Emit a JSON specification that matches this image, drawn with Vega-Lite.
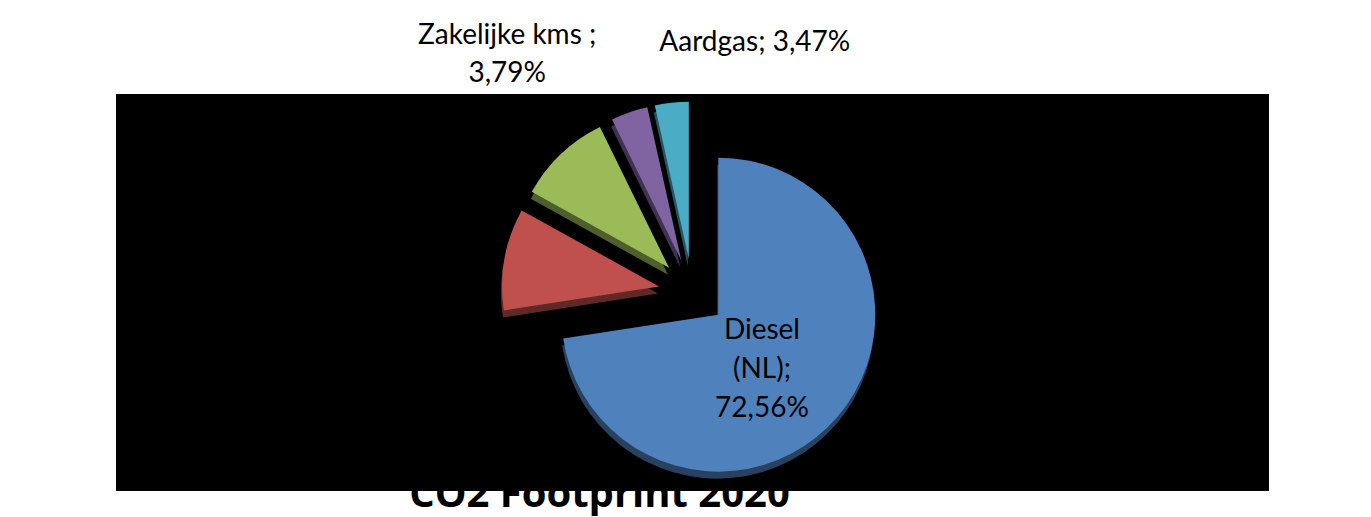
{
  "$schema": "https://vega.github.io/schema/vega-lite/v6.json",
  "width": 1153,
  "height": 397,
  "autosize": {"type": "none"},
  "padding": {"left": 116, "top": 94, "right": 102, "bottom": 26},
  "background": "white",
  "view": {"stroke": null, "fill": "black"},
  "config": {"text": {"font": "Lato"}},
  "title": {
    "text": "CO2 Footprint 2020",
    "orient": "bottom",
    "anchor": "middle",
    "dx": -93,
    "offset": 16,
    "baseline": "alphabetic",
    "font": "Open Sans",
    "fontSize": 40,
    "fontWeight": "bold",
    "color": "black"
  },
  "data": {
    "values": [
      {"categorie": "Diesel (NL)", "aandeel": 72.56, "volgorde": 1, "label": "Diesel\n(NL);\n72,56%"},
      {"categorie": "Categorie 2", "aandeel": 10.5, "volgorde": 2, "label": ""},
      {"categorie": "Categorie 3", "aandeel": 9.68, "volgorde": 3, "label": ""},
      {"categorie": "Zakelijke kms", "aandeel": 3.79, "volgorde": 4, "label": "Zakelijke kms ;\n3,79%"},
      {"categorie": "Aardgas", "aandeel": 3.47, "volgorde": 5, "label": "Aardgas; 3,47%"}
    ]
  },
  "encoding": {
    "theta": {"field": "aandeel", "type": "quantitative", "stack": true},
    "order": {"field": "volgorde", "type": "quantitative"},
    "color": {
      "field": "categorie",
      "type": "nominal",
      "scale": {
        "domain": ["Diesel (NL)", "Categorie 2", "Categorie 3", "Zakelijke kms", "Aardgas"],
        "range": ["#4f81bd", "#c0504d", "#9bbb59", "#8064a2", "#4bacc6"]
      },
      "legend": null
    }
  },
  "layer": [
    {
      "mark": {
        "type": "arc",
        "outerRadius": 157,
        "fillOpacity": 0.5,
        "xOffset": {"expr": "-1 + 34*sin(scale('theta', (datum.aandeel_start + datum.aandeel_end)/2))"},
        "yOffset": {"expr": "7 - 34*cos(scale('theta', (datum.aandeel_start + datum.aandeel_end)/2))"}
      }
    },
    {
      "mark": {
        "type": "arc",
        "outerRadius": 157,
        "xOffset": {"expr": "34*sin(scale('theta', (datum.aandeel_start + datum.aandeel_end)/2))"},
        "yOffset": {"expr": "-34*cos(scale('theta', (datum.aandeel_start + datum.aandeel_end)/2))"}
      }
    },
    {
      "mark": {"type": "text", "radius": 102, "dx": -8, "dy": -28, "fontSize": 28, "lineBreak": "\n", "lineHeight": 39, "align": "center", "baseline": "middle"},
      "encoding": {
        "color": {"value": "black"},
        "text": {"condition": {"test": "datum.categorie === 'Diesel (NL)'", "field": "label"}, "value": ""}
      }
    },
    {
      "mark": {"type": "text", "radius": 255, "dx": -101, "dy": -16, "fontSize": 28, "lineBreak": "\n", "lineHeight": 38, "align": "center", "baseline": "middle"},
      "encoding": {
        "color": {"value": "black"},
        "text": {"condition": {"test": "datum.categorie === 'Zakelijke kms'", "field": "label"}, "value": ""}
      }
    },
    {
      "mark": {"type": "text", "radius": 255, "dx": 90, "dy": 4, "fontSize": 28, "align": "center", "baseline": "middle"},
      "encoding": {
        "color": {"value": "black"},
        "text": {"condition": {"test": "datum.categorie === 'Aardgas'", "field": "label"}, "value": ""}
      }
    }
  ]
}
